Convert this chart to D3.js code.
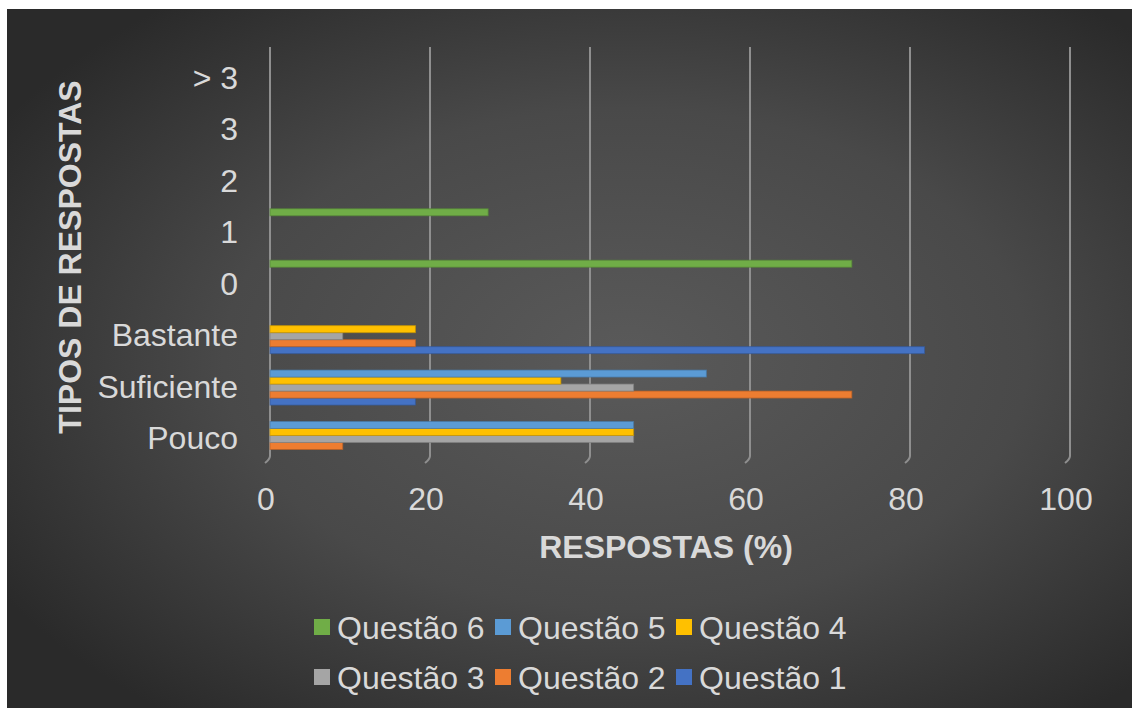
<!DOCTYPE html>
<html>
<head>
<meta charset="utf-8">
<script src="https://cdn.jsdelivr.net/npm/d3@7"></script>
<style>
  body { margin: 0; background: #fff; }
  text { font-family: "Liberation Sans", Arial, sans-serif; fill: #d9d9d9; }
</style>
</head>
<body>
<svg id="chart"></svg>
<script>
// categories bottom -> top, as in the original
let categories = ["Pouco", "Suficiente", "Bastante", "0", "1", "2", "3", "> 3"];
let seriesNames = ["Questão 1", "Questão 2", "Questão 3", "Questão 4", "Questão 5", "Questão 6"];
let seriesColors = ["#4472C4", "#ED7D31", "#A5A5A5", "#FFC000", "#5B9BD5", "#70AD47"];

let q1 = [0, 18.18, 81.82, 0, 0, 0, 0, 0];
let q2 = [9.09, 72.73, 18.18, 0, 0, 0, 0, 0];
let q3 = [45.45, 45.45, 9.09, 0, 0, 0, 0, 0];
let q4 = [45.45, 36.36, 18.18, 0, 0, 0, 0, 0];
let q5 = [45.45, 54.55, 0, 0, 0, 0, 0, 0];
let q6 = [0, 0, 0, 72.73, 27.27, 0, 0, 0];

let xTicks = [0, 20, 40, 60, 80, 100];

let width = 1132;
let height = 708;

let svg = d3.select("#chart").attr("width", width).attr("height", height);

let seriesValues = [q1, q2, q3, q4, q5, q6];

let values = [];
seriesNames.forEach((s, si) => {
  categories.forEach((c, ci) => {
    values.push({ series: s, category: c, value: seriesValues[si][ci], color: seriesColors[si] });
  });
});

// background panel
let defs = svg.append("defs");
let grad = defs.append("radialGradient")
  .attr("id", "bg")
  .attr("cx", "0.55").attr("cy", "0.5").attr("r", "0.65");
grad.append("stop").attr("offset", "0").attr("stop-color", "#5a5a5a");
grad.append("stop").attr("offset", "0.55").attr("stop-color", "#494949");
grad.append("stop").attr("offset", "1").attr("stop-color", "#2a2a2a");

svg.append("rect")
  .attr("x", 7).attr("y", 9)
  .attr("width", width - 7).attr("height", height - 9)
  .attr("fill", "url(#bg)");

// scales
let xScale = d3.scaleLinear().domain([0, 100]).range([270, 1070]);

let yScale = d3.scaleBand()
  .domain(categories.slice().reverse())
  .range([51.3, 462.7]);

let innerScale = d3.scaleBand()
  .domain(seriesNames.slice().reverse())
  .range([-22.5, 19.5]);

// gridlines with the small 3D foot
svg.append("g")
  .selectAll("path")
  .data(xTicks)
  .enter()
  .append("path")
  .attr("d", (t) => {
    let x = xScale(t);
    return "M" + x + ",47 L" + x + ",456 Q" + x + ",459 " + (x - 5) + ",463";
  })
  .attr("fill", "none")
  .attr("stroke", "#8f8f8f")
  .attr("stroke-width", 2);

// bars
svg.append("g")
  .selectAll("rect")
  .data(values.filter((d) => d.value > 0))
  .enter()
  .append("rect")
  .attr("x", xScale(0))
  .attr("y", (d) => yScale(d.category) + yScale.bandwidth() / 2 + innerScale(d.series))
  .attr("width", (d) => xScale(d.value) - xScale(0))
  .attr("height", innerScale.bandwidth())
  .attr("fill", (d) => d.color)
  .attr("stroke", (d) => d3.color(d.color).darker(0.7))
  .attr("stroke-opacity", 0.7)
  .attr("stroke-width", 1);

// x tick labels
svg.append("g")
  .selectAll("text")
  .data(xTicks)
  .enter()
  .append("text")
  .attr("x", (t) => xScale(t) - 4)
  .attr("y", 499)
  .attr("text-anchor", "middle")
  .attr("dominant-baseline", "central")
  .style("font-size", "32px")
  .text((t) => t);

// y tick labels
svg.append("g")
  .selectAll("text")
  .data(categories)
  .enter()
  .append("text")
  .attr("x", 238)
  .attr("y", (c) => yScale(c) + yScale.bandwidth() / 2 + 1)
  .attr("text-anchor", "end")
  .attr("dominant-baseline", "central")
  .style("font-size", "32px")
  .text((c) => c);

// axis titles
svg.append("text")
  .attr("x", 666)
  .attr("y", 547)
  .attr("text-anchor", "middle")
  .attr("dominant-baseline", "central")
  .style("font-size", "32px")
  .style("font-weight", "bold")
  .text("RESPOSTAS (%)");

svg.append("text")
  .attr("transform", "translate(70,257) rotate(-90)")
  .attr("text-anchor", "middle")
  .attr("dominant-baseline", "central")
  .style("font-size", "32px")
  .style("font-weight", "bold")
  .text("TIPOS DE RESPOSTAS");

// legend: top row Q6 Q5 Q4, bottom row Q3 Q2 Q1
let legendOrder = seriesNames.slice().reverse();
let legend = svg.append("g")
  .selectAll("g")
  .data(legendOrder)
  .enter()
  .append("g")
  .attr("transform", (s, i) => "translate(" + (314 + (i % 3) * 181) + "," + (627 + Math.floor(i / 3) * 50) + ")");

legend.append("rect")
  .attr("x", 0).attr("y", -8)
  .attr("width", 16).attr("height", 16)
  .attr("fill", (s) => seriesColors[seriesNames.indexOf(s)]);

legend.append("text")
  .attr("x", 23)
  .attr("y", 1)
  .attr("dominant-baseline", "central")
  .style("font-size", "32px")
  .text((s) => s);
</script>
</body>
</html>
